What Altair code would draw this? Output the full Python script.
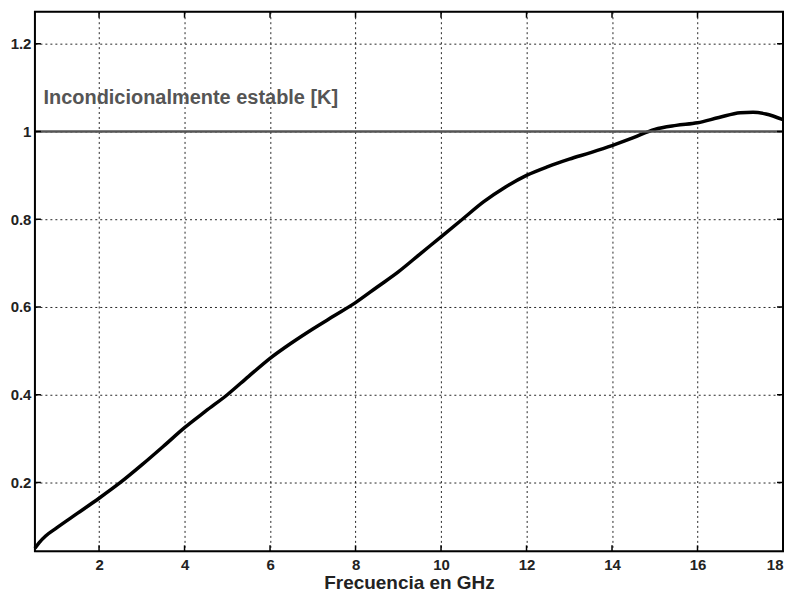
import altair as alt
import pandas as pd

freq = [0.5, 0.6, 0.75, 1, 1.5, 2, 2.5, 3, 3.5, 4, 4.5, 5, 5.5, 6, 6.5, 7, 7.5, 8, 8.5, 9, 9.5,
        10, 10.5, 11, 11.5, 12, 12.5, 13, 13.5, 14, 14.5, 15, 15.5, 16, 16.5, 17, 17.3, 17.6, 18]
k_val = [0.050, 0.063, 0.078, 0.096, 0.130, 0.164, 0.200, 0.240, 0.282, 0.325, 0.363, 0.400, 0.442,
         0.483, 0.518, 0.550, 0.580, 0.610, 0.645, 0.680, 0.720, 0.760, 0.800, 0.840, 0.873,
         0.900, 0.920, 0.937, 0.952, 0.968, 0.986, 1.005, 1.014, 1.020, 1.032, 1.043, 1.044,
         1.040, 1.027]
x_ticks = [2, 4, 6, 8, 10, 12, 14, 16, 18]
y_ticks = [0.2, 0.4, 0.6, 0.8, 1.0, 1.2]
ref_level = [1.0]
label_text = ["Incondicionalmente estable [K]"]
label_pos_x = [0.7]
label_pos_y = [1.077]

df = pd.DataFrame({"f": freq, "k": k_val})
xt = pd.DataFrame({"t": x_ticks})
yt = pd.DataFrame({"t": y_ticks})
ref = pd.DataFrame({"k": ref_level})
lab = pd.DataFrame({"x": label_pos_x, "y": label_pos_y, "txt": label_text})

W, H = 750, 541
FONT = "Liberation Sans"

xscale = alt.Scale(domain=[0.5, 18], nice=False, zero=False)
yscale = alt.Scale(domain=[0.043, 1.273], nice=False, zero=False)

xaxis = alt.Axis(values=x_ticks, title="Frecuencia en GHz", grid=True, ticks=False,
                 labelFont=FONT, labelFontWeight="bold", labelFontSize=15, labelColor="#222",
                 labelPadding=6, titleFont=FONT, titleFontWeight="bold", titleFontSize=19,
                 titleColor="#222", titlePadding=1, domain=False,
                 gridDash=[2, 3], gridColor="#000", gridWidth=1, gridOpacity=0.85)
yaxis = alt.Axis(values=y_ticks, title=None, grid=True, ticks=False,
                 labelFont=FONT, labelFontWeight="bold", labelFontSize=15, labelColor="#222",
                 labelPadding=4, labelExpr="format(datum.value, '.2~f')", domain=False,
                 gridDash=[2, 3], gridColor="#000", gridWidth=1, gridOpacity=0.85)

line = alt.Chart(df).mark_line(color="#000", strokeWidth=3.5, interpolate="monotone").encode(
    x=alt.X("f:Q", scale=xscale, axis=xaxis),
    y=alt.Y("k:Q", scale=yscale, axis=yaxis),
)

rule = alt.Chart(ref).mark_rule(color="#555", strokeWidth=2.5).encode(
    y=alt.Y("k:Q", scale=yscale)
)

text = alt.Chart(lab).mark_text(align="left", baseline="middle", font=FONT, fontSize=20,
                                 fontWeight="bold", color="#555").encode(
    x=alt.X("x:Q", scale=xscale), y=alt.Y("y:Q", scale=yscale), text="txt:N"
)

frame = alt.Chart(lab).mark_rect(fillOpacity=0, stroke="#000", strokeWidth=2).encode(
    x=alt.value(0), x2=alt.value(W), y=alt.value(0), y2=alt.value(H))

tb = alt.Chart(xt).mark_rule(color="#000", strokeWidth=1.5).encode(
    x=alt.X("t:Q", scale=xscale), y=alt.value(H), y2=alt.value(H - 6))
tt = alt.Chart(xt).mark_rule(color="#000", strokeWidth=1.5).encode(
    x=alt.X("t:Q", scale=xscale), y=alt.value(0), y2=alt.value(6))
tl = alt.Chart(yt).mark_rule(color="#000", strokeWidth=1.5).encode(
    y=alt.Y("t:Q", scale=yscale), x=alt.value(0), x2=alt.value(6))
tr = alt.Chart(yt).mark_rule(color="#000", strokeWidth=1.5).encode(
    y=alt.Y("t:Q", scale=yscale), x=alt.value(W), x2=alt.value(W - 6))

chart = alt.layer(line, rule, text, tb, tt, tl, tr, frame).properties(
    width=W, height=H,
    autosize=alt.AutoSizeParams(type="none"),
    padding={"left": 27, "top": 3, "right": 1, "bottom": 42},
).configure_view(stroke=None).configure(background="white")

chart.save("out.html", embed_options={"renderer": "svg", "actions": False})
